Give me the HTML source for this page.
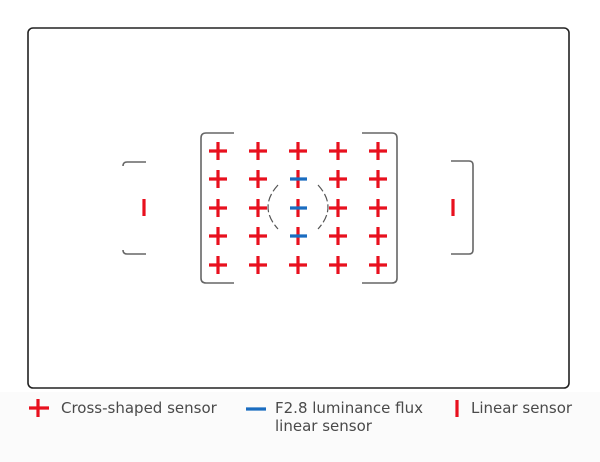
<!DOCTYPE html>
<html><head><style>
html,body{margin:0;padding:0;background:#fff;}
svg{display:block}
text{font-family:"DejaVu Sans","Liberation Sans",sans-serif;font-size:15px;fill:#4a4a4a}
</style></head><body>
<svg width="600" height="462" viewBox="0 0 600 462">
<rect x="0" y="392" width="600" height="70" fill="#fbfbfb"/>
<rect x="28" y="28" width="541" height="360" rx="5" fill="#fff" stroke="#222" stroke-width="1.6"/>
<g fill="none" stroke="#666" stroke-width="1.6">
<path d="M234,133 H206 Q201,133 201,138 V278 Q201,283 206,283 H234"/>
<path d="M362,133 H392 Q397,133 397,138 V278 Q397,283 392,283 H362"/>
<path d="M146,162 H127 Q123,162 123,166"/>
<path d="M146,254 H127 Q123,254 123,250"/>
<path d="M451,161 H469 Q473,161 473,165 V250 Q473,254 469,254 H451"/>
</g>
<g fill="none" stroke="#555" stroke-width="1.2" stroke-dasharray="8,3">
<path d="M278,185 Q258,207 278,229"/>
<path d="M318,185 Q338,207 318,229"/>
</g>
<g stroke="#e8101e" stroke-width="3.2" fill="none">
<path d="
M209,151h18M218,142v18 M249,151h18M258,142v18 M289,151h18M298,142v18 M329,151h18M338,142v18 M369,151h18M378,142v18
M209,179h18M218,170v18 M249,179h18M258,170v18 M298,170v18 M329,179h18M338,170v18 M369,179h18M378,170v18
M209,208h18M218,199v18 M249,208h18M258,199v18 M298,199v18 M329,208h18M338,199v18 M369,208h18M378,199v18
M209,236h18M218,227v18 M249,236h18M258,227v18 M298,227v18 M329,236h18M338,227v18 M369,236h18M378,227v18
M209,265h18M218,256v18 M249,265h18M258,256v18 M289,265h18M298,256v18 M329,265h18M338,256v18 M369,265h18M378,256v18
M144,199v17 M453,199v17
M29,408h20M38,399v18 M457,400v17"/>
</g>
<g stroke="#1a6cc0" stroke-width="3.2">
<path d="M290,179h17M290,208h17M290,236h17M246,409h20"/>
</g>
<text x="61" y="413">Cross-shaped sensor</text>
<text x="275" y="413">F2.8 luminance flux</text>
<text x="275" y="431">linear sensor</text>
<text x="471" y="413">Linear sensor</text>
</svg>
</body></html>
